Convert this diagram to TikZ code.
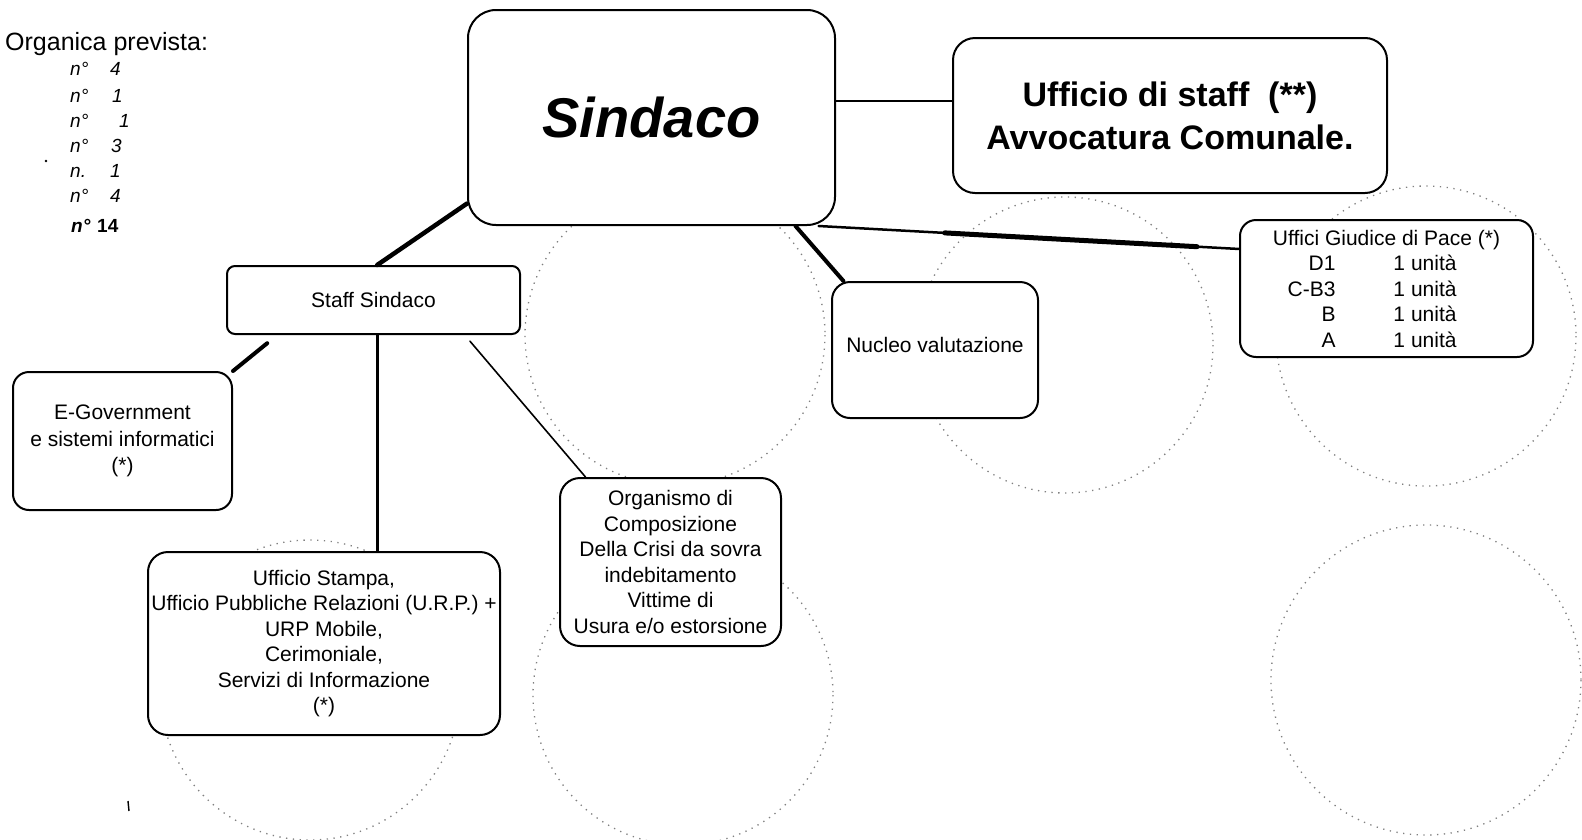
\documentclass[tikz,border=0pt]{standalone}
\usepackage{fontspec}
\setmainfont{Liberation Sans}
\usetikzlibrary{calc}
\tikzset{
  rbox/.style={draw, line width=2pt, fill=white, inner sep=0pt, align=center, rounded corners=#1},
  rbox/.default=15pt,
  small/.style={font=\fontsize{21}{25.5}\selectfont},
  link/.style={line width=#1, line cap=round},
  scanring/.style={black!50, line width=1.3pt, dash pattern=on 1.3pt off 5.5pt},
  listn/.style={anchor=base west, inner sep=0pt, font=\fontsize{19}{22}\selectfont\itshape},
  listv/.style={anchor=base west, inner sep=0pt, font=\fontsize{19}{22}\selectfont\itshape},
}
\begin{document}
\begin{tikzpicture}[x=1pt,y=-1pt]
\useasboundingbox (0,0) rectangle (1582,839);
\fill[white] (0,0) rectangle (1582,839);
% faint rings of the scanned background
\begin{scope}
  \clip (0,0) rectangle (1582,839);
  \draw[scanring] (675,335) circle[radius=150];
  \draw[scanring] (1065,345) circle[radius=148];
  \draw[scanring] (1426,336) circle[radius=150];
  \draw[scanring] (1426,680) circle[radius=155];
  \draw[scanring] (310,690) circle[radius=150];
  \draw[scanring] (683,695) circle[radius=150];
\end{scope}

% left list
\node[anchor=base west, inner sep=0pt, font=\fontsize{25}{30}\selectfont] (head) at (5,50) {Organica prevista:};
\node[listn] (n1) at (70,75) {n°};  \node[listv] (v1) at (110,75) {4};
\node[listn] (n2) at (70,102) {n°}; \node[listv] (v2) at (112,102) {1};
\node[listn] (n3) at (70,127) {n°}; \node[listv] (v3) at (119,127) {1};
\node[listn] (n4) at (70,152) {n°}; \node[listv] (v4) at (111,152) {3};
\node[listn] (n5) at (70,177) {n.};  \node[listv] (v5) at (110,177) {1};
\node[listn] (n6) at (70,202) {n°}; \node[listv] (v6) at (110,202) {4};
\node[anchor=base west, inner sep=0pt, font=\fontsize{19}{22}\selectfont\bfseries\itshape] (n7) at (71,232) {n°};
\node[anchor=base west, inner sep=0pt, font=\fontsize{19}{22}\selectfont\bfseries] (v7) at (97,232) {14};
\fill (46,161) circle[radius=1.3];
\draw[line width=1.4pt] (128,801) -- (129,811);

% boxes
\node[rbox=28pt, minimum width=367pt, minimum height=215pt, font=\fontsize{56}{60}\selectfont\bfseries\itshape] (sindaco) at (651.5,117.5) {Sindaco};
\node[rbox=22pt, minimum width=434pt, minimum height=155pt, font=\fontsize{34}{43}\selectfont\bfseries] (uffstaff) at (1170,115.5) {Ufficio di staff\ \ (**)\\Avvocatura Comunale.};
\node[rbox=8pt, minimum width=293pt, minimum height=68pt, small] (staff) at (373.5,300) {Staff Sindaco};
\node[rbox=16pt, minimum width=219pt, minimum height=138pt, font=\fontsize{21}{26.5}\selectfont] (egov) at (122.5,441) {E-Government\\e sistemi informatici\\(*)};
\node[rbox=20pt, minimum width=352pt, minimum height=183pt, small] (stampa) at (324,643.5) {Ufficio Stampa,\\Ufficio Pubbliche Relazioni (U.R.P.) +\\URP Mobile,\\Cerimoniale,\\Servizi di Informazione\\(*)};
\node[rbox=20pt, minimum width=221pt, minimum height=168pt, small] (org) at (670.5,562) {Organismo di\\Composizione\\Della Crisi da sovra\\indebitamento\\Vittime di\\Usura e/o estorsione};
\node[rbox=18pt, minimum width=206pt, minimum height=136pt, small] (nucleo) at (935,350) {\raisebox{10pt}{Nucleo valutazione}};
\node[rbox=16pt, minimum width=293pt, minimum height=137pt, small] (giudice) at (1386.5,288.5) {Uffici Giudice di Pace (*)\\
  \makebox[64pt][r]{D1}\hspace{58pt}\makebox[108pt][l]{1 unità}\\
  \makebox[64pt][r]{C-B3}\hspace{58pt}\makebox[108pt][l]{1 unità}\\
  \makebox[64pt][r]{B}\hspace{58pt}\makebox[108pt][l]{1 unità}\\
  \makebox[64pt][r]{A}\hspace{58pt}\makebox[108pt][l]{1 unità}};

% connectors
\draw[link=4.5pt] (sindaco.205.9) -- (staff.84);
\draw[link=2pt] (sindaco.5.4) -- (sindaco.5.4 -| uffstaff.west);
\draw[link=4pt] (sindaco.323) -- (nucleo.143);
\coordinate (ga) at ($(sindaco.327.7)!0.3!(giudice.165)$);
\coordinate (gb) at ($(sindaco.327.7)!0.9!(giudice.165)$);
\draw[link=2.5pt] (sindaco.327.7) -- (giudice.165);
\draw[link=5pt] (ga) -- (gb);
\draw[link=4pt, shorten <=13pt] (staff.200.3) -- (egov.north east);
\draw[link=3pt] (staff.276) -- (staff.276 |- stampa.north);
\draw[link=1.6pt, shorten <=8pt] (staff.339.2) -- (org.135);
\end{tikzpicture}
\end{document}
